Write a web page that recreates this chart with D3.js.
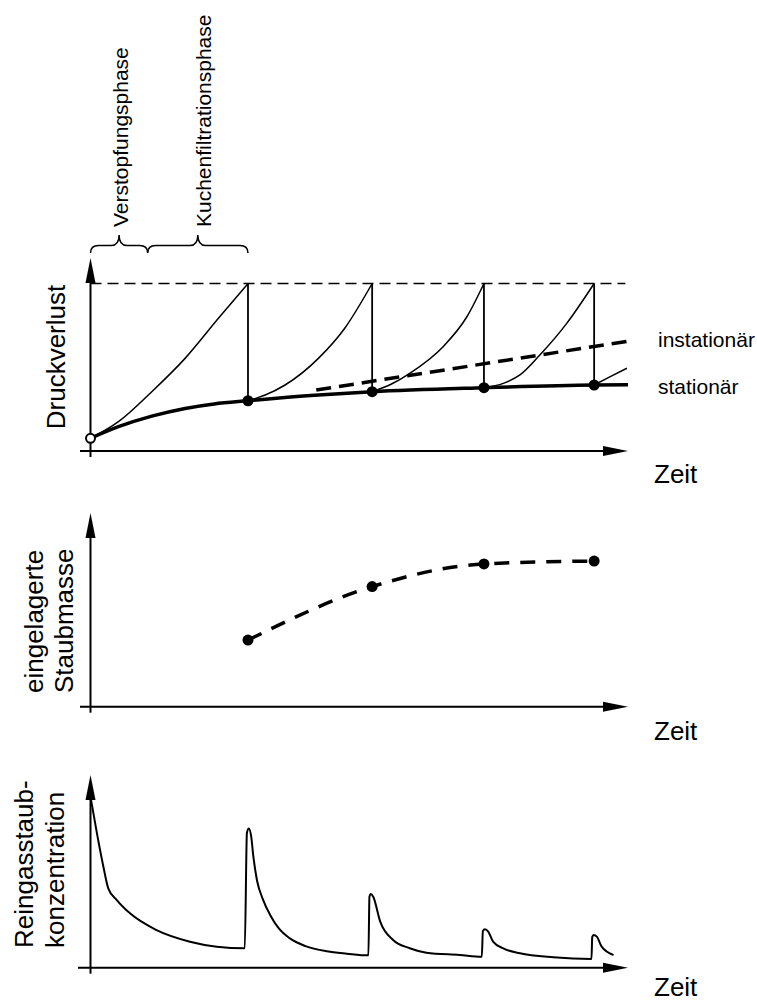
<!DOCTYPE html>
<html>
<head>
<meta charset="utf-8">
<script src="https://cdn.jsdelivr.net/npm/d3@7"></script>
<style>
  body { margin: 0; background: #fff; }
  svg { display: block; }
  text { font-family: "Liberation Sans", Arial, Helvetica, sans-serif; fill: #000; }
</style>
</head>
<body>
<div id="chart"></div>
<script>
//////////
// DATA //
//////////

// time of each cleaning pulse (same for all three panels)
var cleanTimes = [2.93, 5.24, 7.32, 9.37];
// phase boundaries for the braces on top
var phaseBounds = [0, 1.064, 2.93];
var phaseNames = ["Verstopfungsphase", "Kuchenfiltrationsphase"];

// panel 1: pressure drop (1 = max pressure, triggers cleaning)
var pMax = 1;
var stationaerT = [0, 0.52, 1.14, 1.76, 2.3, 2.93, 4.24, 5.24, 7.34, 9.37, 10.0];
var stationaerP = [0.076, 0.145, 0.208, 0.254, 0.281, 0.30, 0.334, 0.354, 0.378, 0.394, 0.396];
var residualP = [0.30, 0.354, 0.378, 0.394];
var zyklus1 = [[0, 0.076], [0.52, 0.175], [1.14, 0.354], [1.76, 0.553], [2.38, 0.792], [2.93, 1]];
var zyklus2 = [[2.93, 0.30], [3.25, 0.334], [3.62, 0.394], [4.24, 0.553], [4.73, 0.733], [5.24, 1]];
var zyklus3 = [[5.24, 0.354], [5.6, 0.40], [5.94, 0.464], [6.56, 0.623], [7.0, 0.80], [7.32, 1]];
var zyklus4 = [[7.32, 0.378], [7.68, 0.404], [7.99, 0.454], [8.36, 0.573], [8.86, 0.762], [9.37, 1]];
var zyklus5 = [[9.37, 0.394], [9.67, 0.444], [9.98, 0.494]];
var instationaer = [[4.2, 0.364], [10.05, 0.658]];

// panel 2: stored dust mass after each cleaning
var staubmasse = [0.344, 0.62, 0.737, 0.752];

// panel 3: clean gas dust concentration
var reingas = [
  [0, 0.887], [0.12, 0.697], [0.24, 0.524], [0.33, 0.412], [0.49, 0.351], [0.735, 0.282],
  [1.23, 0.195], [1.85, 0.135], [2.35, 0.109], [2.87, 0.101],
  [2.91, 0.70], [2.945, 0.723], [2.99, 0.68], [3.03, 0.576], [3.1, 0.45], [3.2, 0.36],
  [3.35, 0.27], [3.5, 0.205], [3.71, 0.152], [4.0, 0.112], [4.4, 0.085], [4.77, 0.073], [5.17, 0.064],
  [5.19, 0.37], [5.215, 0.383], [5.26, 0.368], [5.39, 0.239], [5.63, 0.144], [5.94, 0.101],
  [6.25, 0.078], [6.87, 0.066], [7.28, 0.057],
  [7.30, 0.19], [7.34, 0.199], [7.4, 0.187], [7.49, 0.135], [7.68, 0.10], [7.99, 0.075],
  [8.61, 0.054], [9.32, 0.045],
  [9.335, 0.16], [9.36, 0.17], [9.42, 0.161], [9.51, 0.109], [9.73, 0.066]
];

var axisTitles = [["Druckverlust"], ["eingelagerte", "Staubmasse"], ["Reingasstaub-", "konzentration"]];

/////////////////////
// SVG AND SCALES  //
/////////////////////

var svgWidth = 757, svgHeight = 1003;

var svg = d3.select("#chart").append("svg")
  .attr("width", svgWidth)
  .attr("height", svgHeight);

var x = d3.scaleLinear().domain([0, 10]).range([90.5, 628]);

var y1 = d3.scaleLinear().domain([0, 1]).range([451, 283.5]);
var y2 = d3.scaleLinear().domain([0, 1]).range([706.7, 513]);
var y3 = d3.scaleLinear().domain([0, 1]).range([967.7, 775]);

//////////
// AXES //
//////////

// arrow axes, no ticks
function drawAxes(y, yTop, xStart, labelDy) {
  var x0 = x(0), yb = y(0), xEnd = x.range()[1];
  svg.append("line")
    .attr("x1", x0).attr("x2", x0)
    .attr("y1", yb + 6).attr("y2", yTop + 20)
    .attr("stroke", "#000").attr("stroke-width", 2);
  svg.append("path")
    .attr("d", "M" + x0 + "," + yTop + "L" + (x0 - 5) + "," + (yTop + 25) + "L" + (x0 + 5) + "," + (yTop + 25) + "Z")
    .attr("fill", "#000");
  svg.append("line")
    .attr("x1", xStart).attr("x2", xEnd - 20)
    .attr("y1", yb).attr("y2", yb)
    .attr("stroke", "#000").attr("stroke-width", 2);
  svg.append("path")
    .attr("d", "M" + xEnd + "," + yb + "L" + (xEnd - 25) + "," + (yb - 5) + "L" + (xEnd - 25) + "," + (yb + 5) + "Z")
    .attr("fill", "#000");
  svg.append("text")
    .attr("x", 654).attr("y", yb + labelDy)
    .style("font-size", "26px")
    .text("Zeit");
}

drawAxes(y1, 258, 80, 32);
drawAxes(y2, 513, 80, 33);
drawAxes(y3, 775, 78, 28);

// y axis titles, rotated
function axisTitle(lines, baselines, yPos, anchor) {
  lines.forEach(function (t, i) {
    svg.append("text")
      .attr("transform", "translate(" + baselines[i] + "," + yPos + ") rotate(-90)")
      .style("text-anchor", anchor)
      .style("font-size", "26px")
      .text(t);
  });
}
axisTitle(axisTitles[0], [65], 357, "middle");
axisTitle(axisTitles[1], [42.5, 73], 693, "start");
axisTitle(axisTitles[2], [32.5, 63.5], 948, "start");

//////////////////////
// PANEL 1: PRESSURE //
//////////////////////

var line1 = d3.line()
  .x(function (d) { return x(d[0]); })
  .y(function (d) { return y1(d[1]); })
  .curve(d3.curveMonotoneX);

// max pressure line
svg.append("line")
  .attr("x1", x(0)).attr("x2", x(9.95))
  .attr("y1", y1(pMax)).attr("y2", y1(pMax))
  .attr("stroke", "#000").attr("stroke-width", 1.5)
  .attr("stroke-dasharray", "11,6");

// cleaning drops
svg.selectAll(".drop")
  .data(cleanTimes)
  .enter().append("line")
  .attr("class", "drop")
  .attr("x1", function (d) { return x(d); })
  .attr("x2", function (d) { return x(d); })
  .attr("y1", function (d, i) { return y1(residualP[i]); })
  .attr("y2", y1(pMax))
  .attr("stroke", "#000").attr("stroke-width", 1.8);

// filtration cycles
svg.selectAll(".zyklus")
  .data([zyklus1, zyklus2, zyklus3, zyklus4, zyklus5])
  .enter().append("path")
  .attr("class", "zyklus")
  .attr("d", line1)
  .attr("fill", "none")
  .attr("stroke", "#000").attr("stroke-width", 1.5);

// instationary trend
svg.append("path")
  .attr("d", d3.line().x(function (d) { return x(d[0]); }).y(function (d) { return y1(d[1]); })(instationaer))
  .attr("fill", "none")
  .attr("stroke", "#000").attr("stroke-width", 3.5)
  .attr("stroke-dasharray", "15,8");

// stationary residual pressure
svg.append("path")
  .attr("d", line1(stationaerT.map(function (t, i) { return [t, stationaerP[i]]; })))
  .attr("fill", "none")
  .attr("stroke", "#000").attr("stroke-width", 3.5);

svg.selectAll(".dot1")
  .data(cleanTimes)
  .enter().append("circle")
  .attr("class", "dot1")
  .attr("cx", function (d) { return x(d); })
  .attr("cy", function (d, i) { return y1(residualP[i]); })
  .attr("r", 5.5)
  .attr("fill", "#000");

svg.append("circle")
  .attr("cx", x(stationaerT[0])).attr("cy", y1(stationaerP[0]))
  .attr("r", 4.5)
  .attr("fill", "#fff").attr("stroke", "#000").attr("stroke-width", 2);

svg.append("text").attr("x", 658).attr("y", 347).style("font-size", "21px").text("instationär");
svg.append("text").attr("x", 658).attr("y", 394).style("font-size", "21px").text("stationär");

// braces for the phases
function bracePath(x0, x1) {
  var xm = (x0 + x1) / 2, w = 8, yEnd = 253, yMid = 245.5, yTip = 235;
  return "M" + x0 + "," + yEnd +
    "Q" + x0 + "," + yMid + " " + (x0 + w) + "," + yMid +
    "L" + (xm - w) + "," + yMid +
    "Q" + xm + "," + yMid + " " + xm + "," + yTip +
    "Q" + xm + "," + yMid + " " + (xm + w) + "," + yMid +
    "L" + (x1 - w) + "," + yMid +
    "Q" + x1 + "," + yMid + " " + x1 + "," + yEnd;
}
var phaseBaselineX = [128, 210.5];
phaseNames.forEach(function (name, i) {
  svg.append("path")
    .attr("d", bracePath(x(phaseBounds[i]), x(phaseBounds[i + 1])))
    .attr("fill", "none")
    .attr("stroke", "#000").attr("stroke-width", 1.5);
  svg.append("text")
    .attr("transform", "translate(" + phaseBaselineX[i] + ",227) rotate(-90)")
    .style("font-size", "21px")
    .text(name);
});

////////////////////////
// PANEL 2: DUST MASS //
////////////////////////

svg.append("path")
  .attr("d", d3.line()
    .x(function (d, i) { return x(cleanTimes[i]); })
    .y(function (d) { return y2(d); })
    .curve(d3.curveMonotoneX)(staubmasse))
  .attr("fill", "none")
  .attr("stroke", "#000").attr("stroke-width", 3.5)
  .attr("stroke-dasharray", "15,11");

svg.selectAll(".dot2")
  .data(staubmasse)
  .enter().append("circle")
  .attr("class", "dot2")
  .attr("cx", function (d, i) { return x(cleanTimes[i]); })
  .attr("cy", function (d) { return y2(d); })
  .attr("r", 5.5)
  .attr("fill", "#000");

////////////////////////////////
// PANEL 3: CLEAN GAS DUST    //
////////////////////////////////

svg.append("path")
  .attr("d", d3.line()
    .x(function (d) { return x(d[0]); })
    .y(function (d) { return y3(d[1]); })
    .curve(d3.curveMonotoneX)(reingas))
  .attr("fill", "none")
  .attr("stroke", "#000").attr("stroke-width", 2);
</script>
</body>
</html>
